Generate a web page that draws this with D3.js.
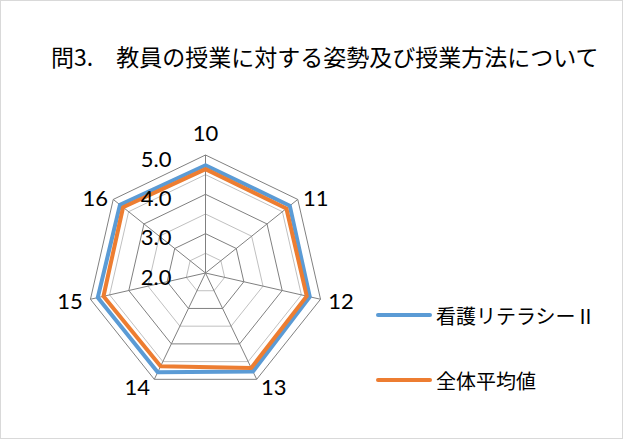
<!DOCTYPE html>
<html>
<head>
<meta charset="utf-8">
<script src="https://cdn.jsdelivr.net/npm/d3@7"></script>
<style>
  body { margin: 0; background: #fff; }
  svg { display: block; }
</style>
</head>
<body>
<svg id="chart" width="623" height="439"></svg>
<script>
const axes = ["10", "11", "12", "13", "14", "15", "16"]
const kango = [4.74, 4.74, 4.72, 4.78, 4.80, 4.81, 4.78]
const zentai = [4.64, 4.63, 4.64, 4.68, 4.63, 4.66, 4.68]
const ticks = [2.0, 3.0, 4.0, 5.0]
const gridValues = [2.5, 3.0, 3.5, 4.0, 4.5, 5.0]
const seriesNames = ["看護リテラシーⅡ", "全体平均値"]
const seriesColors = ["#5b9bd5", "#ed7d31"]
const title = "問3.\u3000教員の授業に対する姿勢及び授業方法について"

const svg = d3.select("#chart")
const cx = 205.5, cy = 273, R = 118
const numFont = "Lato, 'Open Sans', sans-serif"
const jpFont = "'Noto Sans CJK JP', sans-serif"

// frame
svg.append("rect")
  .attr("x", 0.5).attr("y", 0.5)
  .attr("width", 622).attr("height", 438)
  .attr("fill", "#fff")
  .attr("stroke", "#d9d9d9")

// title
svg.append("text")
  .attr("x", 51).attr("y", 56)
  .attr("dominant-baseline", "central")
  .style("font-family", jpFont)
  .style("font-size", "23px")
  .attr("fill", "#000")
  .text(title)

const r = d3.scaleLinear().domain([2, 5]).range([0, R])
// evenly spread, clockwise from top
const angleOf = i => i * 2 * Math.PI / axes.length

const g = svg.append("g").attr("transform", `translate(${cx},${cy})`)

const ring = d3.lineRadial()
  .angle((d, i) => angleOf(i))
  .radius(d => r(d))
  .curve(d3.curveLinearClosed)

// grid rings
gridValues.forEach(v => {
  const major = Number.isInteger(v)
  g.append("path")
    .attr("d", ring(axes.map(() => v)))
    .attr("fill", "none")
    .attr("stroke", major ? "#808080" : "#c0c0c0")
    .attr("stroke-width", 1)
})

// spokes
axes.forEach((a, i) => {
  const ang = angleOf(i)
  g.append("line")
    .attr("x1", 0).attr("y1", 0)
    .attr("x2", R * Math.sin(ang))
    .attr("y2", -R * Math.cos(ang))
    .attr("stroke", "#808080")
    .attr("stroke-width", 1)
})

// series
;[kango, zentai].forEach((vals, s) => {
  g.append("path")
    .attr("d", ring(vals))
    .attr("fill", "none")
    .attr("stroke", seriesColors[s])
    .attr("stroke-width", 4)
    .attr("stroke-linejoin", "round")
})

// value tick labels
ticks.forEach(t => {
  g.append("text")
    .attr("x", -34)
    .attr("y", -r(t) + 3)
    .attr("text-anchor", "end")
    .attr("dominant-baseline", "central")
    .style("font-family", numFont)
    .style("font-size", "22px")
    .attr("fill", "#000")
    .text(t.toFixed(1))
})

// category labels, offset from each vertex
const labelOffsets = [[0, -22.5], [18, -2], [20.5, 1.5], [17, 7], [-17, 7], [-20.5, 1.5], [-18, -2]]
axes.forEach((a, i) => {
  const ang = angleOf(i)
  g.append("text")
    .attr("x", R * Math.sin(ang) + labelOffsets[i][0])
    .attr("y", -R * Math.cos(ang) + labelOffsets[i][1])
    .attr("text-anchor", "middle")
    .attr("dominant-baseline", "central")
    .style("font-family", numFont)
    .style("font-size", "22px")
    .attr("fill", "#000")
    .text(a)
})

// legend
const legendY = [315, 380]
seriesNames.forEach((name, s) => {
  svg.append("line")
    .attr("x1", 378).attr("x2", 430)
    .attr("y1", legendY[s]).attr("y2", legendY[s])
    .attr("stroke", seriesColors[s])
    .attr("stroke-width", 4)
    .attr("stroke-linecap", "round")
  svg.append("text")
    .attr("x", 436).attr("y", legendY[s])
    .attr("dominant-baseline", "central")
    .style("font-family", jpFont)
    .style("font-size", "20px")
    .attr("fill", "#000")
    .text(name)
})
</script>
</body>
</html>
